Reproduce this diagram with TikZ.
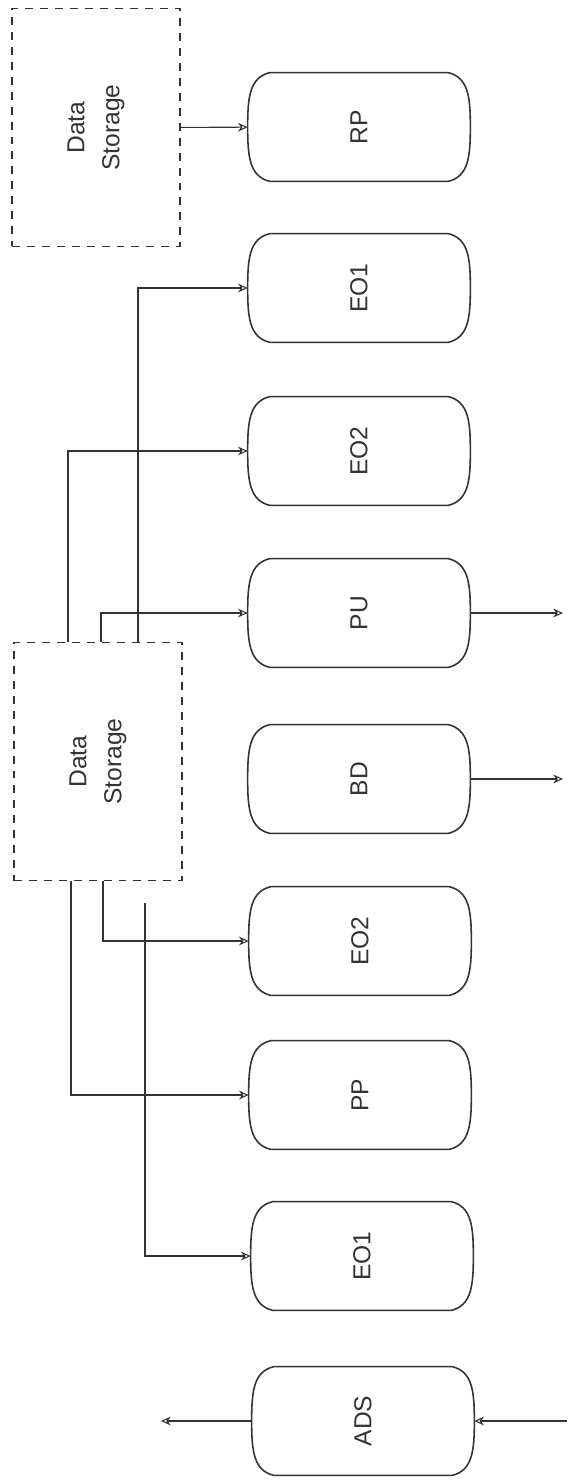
\documentclass[tikz,border=0pt]{standalone}
\usepackage{fontspec}
\setmainfont{Liberation Sans}
\usetikzlibrary{positioning, calc, arrows.meta}
\colorlet{linecol}{black!80}
\tikzset{
  vessel/.style={minimum width=4.44cm, minimum height=2.16cm},
  tank/.style={draw=linecol, line width=0.9pt},
  storage/.style={draw=linecol, line width=0.6pt, dash pattern=on 4.5pt off 4pt, minimum width=3.36cm, minimum height=4.76cm},
  lbl/.style={rotate=90, align=center, font=\fontsize{14}{20}\selectfont, text=linecol},
  conn/.style={draw=linecol, line width=0.6pt, -{Stealth[open, length=5.5pt, width=5pt]}}
}
\begin{document}
\begin{tikzpicture}
        \useasboundingbox (0,0) rectangle (11.34,-29.6);
        %data storage
        \node[storage] (dstop) at (1.92,-2.55) {};
        \node[lbl] at (dstop) {Data\\Storage};
        \node[storage] (dsmid) at (1.96,-15.23) {};
        \node[lbl] at (dsmid) {Data\\Storage};
        
        %serbatoi
        \node[vessel] (rp) at (7.18,-2.54) {};
        \node[lbl] at (rp) {RP};
        \node[vessel] (eoa) at (7.18,-5.76) {};
        \node[lbl] at (eoa) {EO1};
        \node[vessel] (eob) at (7.18,-9.02) {};
        \node[lbl] at (eob) {EO2};
        \node[vessel] (pu) at (7.18,-12.26) {};
        \node[lbl] at (pu) {PU};
        \node[vessel] (bd) at (7.18,-15.58) {};
        \node[lbl] at (bd) {BD};
        \node[vessel] (eoc) at (7.2,-18.82) {};
        \node[lbl] at (eoc) {EO2};
        \node[vessel] (pp) at (7.2,-21.9) {};
        \node[lbl] at (pp) {PP};
        \node[vessel] (eod) at (7.24,-25.12) {};
        \node[lbl] at (eod) {EO1};
        \node[vessel] (ads) at (7.26,-28.42) {};
        \node[lbl] at (ads) {ADS};
        
        %contorno serbatoi
        \foreach \v in {rp,eoa,eob,pu,bd,eoc,pp,eod,ads}
          \draw[tank] ($(\v.north west)+(0.44,0)$) -- ($(\v.north east)+(-0.44,0)$)
            .. controls ($(\v.north east)+(-0.04,-0.1)$) and ($(\v.east)+(0,0.6)$) .. (\v.east)
            .. controls ($(\v.east)+(0,-0.6)$) and ($(\v.south east)+(-0.04,0.1)$) .. ($(\v.south east)+(-0.44,0)$)
            -- ($(\v.south west)+(0.44,0)$)
            .. controls ($(\v.south west)+(0.04,0.1)$) and ($(\v.west)+(0,-0.6)$) .. (\v.west)
            .. controls ($(\v.west)+(0,0.6)$) and ($(\v.north west)+(0.04,-0.1)$) .. cycle;
        
        %uscite
        \coordinate (puout) at (11.26,-12.26);
        \coordinate (bdout) at (11.26,-15.58);
        \coordinate (adsin) at (11.34,-28.42);
        \coordinate (adsout) at (3.22,-28.42);
        \coordinate (loose) at (2.9,-18.06);
        
        %collegamenti
        \draw[conn] (dstop) -- (rp);
        \draw[conn] ([xshift=2.49cm]dsmid.north west) |- (eoa.west);
        \draw[conn] ([xshift=1.09cm]dsmid.north west) |- (eob.west);
        \draw[conn] ([xshift=1.75cm]dsmid.north west) |- (pu.west);
        \draw[conn] ([xshift=1.79cm]dsmid.south west) |- (eoc.west);
        \draw[conn] ([xshift=1.15cm]dsmid.south west) |- (pp.west);
        \draw[conn] (loose) |- (eod.west);
        %----
        \draw[conn] (pu.east) -- (puout);
        \draw[conn] (bd.east) -- (bdout);
        \draw[conn] (adsin) -- (ads.east);
        \draw[conn] (ads.west) -- (adsout);
\end{tikzpicture}
\end{document}
